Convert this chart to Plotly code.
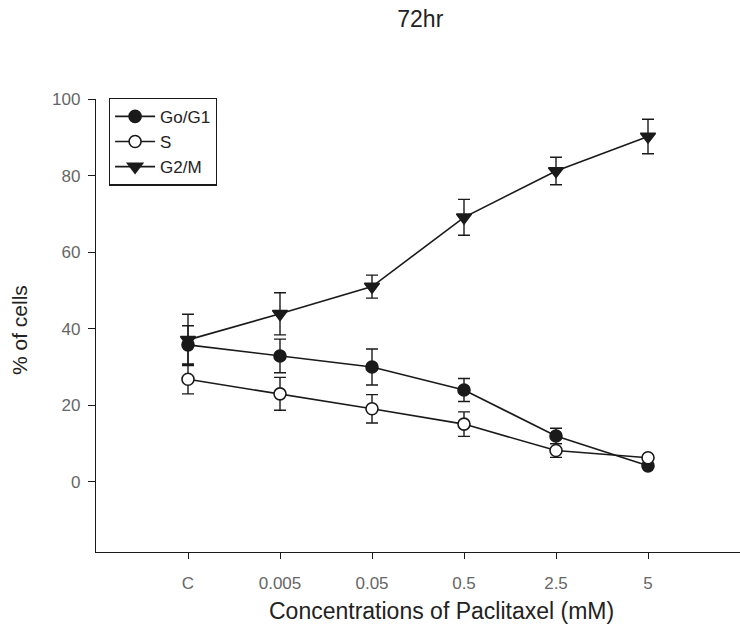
import plotly.graph_objects as go

# Paclitaxel concentrations (categorical x axis)
concentrations = ["C", "0.005", "0.05", "0.5", "2.5", "5"]

# Cell-cycle distribution at 72 hr (% of cells) with error bars
g0g1_mean = [35.8, 32.9, 30.0, 24.0, 12.0, 4.2]
g0g1_err = [5.0, 4.4, 4.7, 3.0, 2.0, 0.0]

s_mean = [26.8, 23.0, 19.1, 15.1, 8.2, 6.3]
s_err = [3.8, 4.3, 3.7, 3.2, 1.8, 0.0]

g2m_mean = [37.1, 43.9, 51.0, 69.1, 81.2, 90.2]
g2m_err = [6.7, 5.5, 3.0, 4.7, 3.6, 4.5]

x_pos = list(range(len(concentrations)))

font_family = "Liberation Sans, Arial, Helvetica, sans-serif"
ink = "#1a1a1a"
W, H = 740, 638
M = dict(l=96, r=0, t=99, b=86)

series = [
    ("Go/G1", g0g1_mean, g0g1_err, "circle", ink, 12),
    ("S", s_mean, s_err, "circle", "white", 12),
    ("G2/M", g2m_mean, g2m_err, "triangle-down", ink, 13),
]

fig = go.Figure()
for name, mean, err, symbol, fill, size in series:
    fig.add_trace(go.Scatter(
        x=x_pos,
        y=mean,
        name=name,
        mode="lines+markers",
        line=dict(color=ink, width=1.6),
        marker=dict(symbol=symbol, size=size, color=fill,
                    line=dict(color=ink, width=1.6)),
        error_y=dict(type="data", array=err, visible=True, color=ink,
                     thickness=1.4, width=6),
    ))

# axis titles placed as paper annotations (pixel positions converted to paper units)
def px_to_paper(px, py):
    pw = W - M["l"] - M["r"]
    ph = H - M["t"] - M["b"]
    return (px - M["l"]) / pw, (H - M["b"] - py) / ph

xt_x, xt_y = px_to_paper(441, 611)
yt_x, yt_y = px_to_paper(19, 330)

fig.add_annotation(text="Concentrations of Paclitaxel (mM)", xref="paper", yref="paper",
                   x=xt_x, y=xt_y, xanchor="center", yanchor="middle", showarrow=False,
                   font=dict(size=23, color="#222"))
fig.add_annotation(text="% of cells", xref="paper", yref="paper",
                   x=yt_x, y=yt_y, xanchor="center", yanchor="middle", showarrow=False,
                   textangle=-90, font=dict(size=21, color="#222"))

fig.update_layout(
    width=W,
    height=H,
    margin=M,
    paper_bgcolor="white",
    plot_bgcolor="white",
    font=dict(family=font_family, color=ink),
    title=dict(text="72hr", x=0.568, xanchor="center", y=0.97, yanchor="middle",
               font=dict(size=23, color="#222")),
    showlegend=True,
    legend=dict(
        x=0.02, y=1.003, xanchor="left", yanchor="top",
        bordercolor=ink, borderwidth=1.2, bgcolor="white",
        font=dict(size=17, color="#222"),
        itemwidth=40, tracegroupgap=0,
    ),
    xaxis=dict(
        range=[-1, 6],
        tickvals=x_pos,
        ticktext=concentrations,
        showgrid=False, zeroline=False,
        showline=True, linecolor=ink, linewidth=1.4,
        ticks="outside", ticklen=6, tickwidth=1.2, tickcolor=ink,
        tickfont=dict(size=17, color="#666"),
        ticklabelstandoff=9,
    ),
    yaxis=dict(
        range=[-18.3, 100],
        tickvals=[0, 20, 40, 60, 80, 100],
        showgrid=False, zeroline=False,
        showline=True, linecolor=ink, linewidth=1.4,
        ticks="outside", ticklen=7, tickwidth=1.2, tickcolor=ink,
        tickfont=dict(size=17, color="#666"),
        ticklabelstandoff=4,
    ),
)

fig.write_html("out.html")
